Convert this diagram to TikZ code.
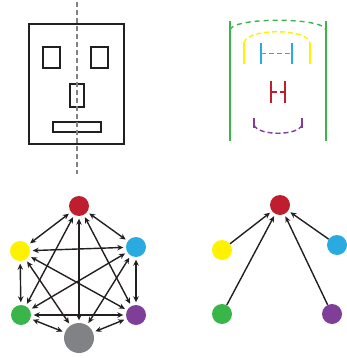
\documentclass[tikz,border=0pt]{standalone}
\usetikzlibrary{arrows.meta}
\definecolor{cred}{HTML}{BE1E2D}
\definecolor{cblue}{HTML}{29ABE2}
\definecolor{cyellow}{HTML}{FFF200}
\definecolor{cgreen}{HTML}{39B54A}
\definecolor{cpurple}{HTML}{7F3F98}
\definecolor{cgray}{HTML}{808285}
\definecolor{cink}{HTML}{231F20}
\begin{document}
\begin{tikzpicture}[x=1pt,y=-1pt,
  facebox/.style={draw=cink,line width=2.2pt},
  dot/.style={circle,inner sep=0pt,minimum size=20pt},
  bigdot/.style={circle,inner sep=0pt,minimum size=30pt},
  link/.style={draw=cink,line width=1.4pt,{Stealth[length=6pt,width=5.5pt]}-{Stealth[length=6pt,width=5.5pt]},shorten <=2.5pt,shorten >=2.5pt},
  tolink/.style={draw=cink,line width=1.4pt,-{Stealth[length=6pt,width=5.5pt]},shorten >=2.5pt},
  bar/.style={line width=2.6pt}]
\useasboundingbox (0,0) rectangle (346,358);
% face
\draw[facebox] (29,24) rectangle (124,144);
\draw[facebox] (43,47) rectangle (60,68);
\draw[facebox] (91,47) rectangle (108,68);
\draw[facebox] (70,84) rectangle (84,107);
\draw[facebox] (53,122) rectangle (101,132);
\draw[cgray,line width=1.5pt,dash pattern=on 5pt off 3pt] (77,2) -- (77,174);
% brackets
\draw[cgreen,bar] (230,21) -- (230,141);
\draw[cgreen,bar] (326,21) -- (326,141);
\draw[cgreen,line width=1.4pt,dash pattern=on 5pt off 4pt] (230,30) .. controls (232,17) and (324,17) .. (326,30);
\draw[cyellow,bar] (244,43) -- (244,64);
\draw[cyellow,bar] (310,43) -- (310,64);
\draw[cyellow,line width=1.4pt,dash pattern=on 5pt off 3pt] (244,43) .. controls (246,28) and (308,28) .. (310,43);
\draw[cblue,bar] (261,43) -- (261,64);
\draw[cblue,bar] (292,43) -- (292,64);
\draw[cblue,line width=1.5pt,dash pattern=on 5pt off 3pt] (261,53.5) -- (292,53.5);
\draw[cred,bar] (271,81) -- (271,103);
\draw[cred,bar] (285,81) -- (285,103);
\draw[cred,line width=1.5pt,dash pattern=on 5.5pt off 3pt] (271,92) -- (285,92);
\draw[cpurple,bar] (254,118) -- (254,128);
\draw[cpurple,bar] (302,118) -- (302,128);
\draw[cpurple,line width=1.4pt,dash pattern=on 5pt off 3pt] (254,125) .. controls (258,136) and (298,136) .. (302,125);
% complete graph
\node[dot,fill=cred] (r) at (79,206) {};
\node[dot,fill=cblue] (b) at (136,247) {};
\node[dot,fill=cyellow] (y) at (20,251) {};
\node[dot,fill=cgreen] (g) at (21,315) {};
\node[dot,fill=cpurple] (p) at (136,315) {};
\node[bigdot,fill=cgray] (k) at (79,338) {};
\foreach \a/\b in {r/b,r/y,r/g,r/p,r/k,b/y,b/g,b/p,b/k,y/g,y/p,y/k,g/p,g/k,p/k}
  \draw[link] (\a) -- (\b);
% star
\node[dot,fill=cred] (r2) at (280,205) {};
\node[dot,fill=cyellow] (y2) at (222,250) {};
\node[dot,fill=cblue] (b2) at (337,245) {};
\node[dot,fill=cgreen] (g2) at (222,314) {};
\node[dot,fill=cpurple] (p2) at (332,314) {};
\foreach \a in {y2,b2,g2,p2}
  \draw[tolink] (\a) -- (r2);
\end{tikzpicture}
\end{document}
